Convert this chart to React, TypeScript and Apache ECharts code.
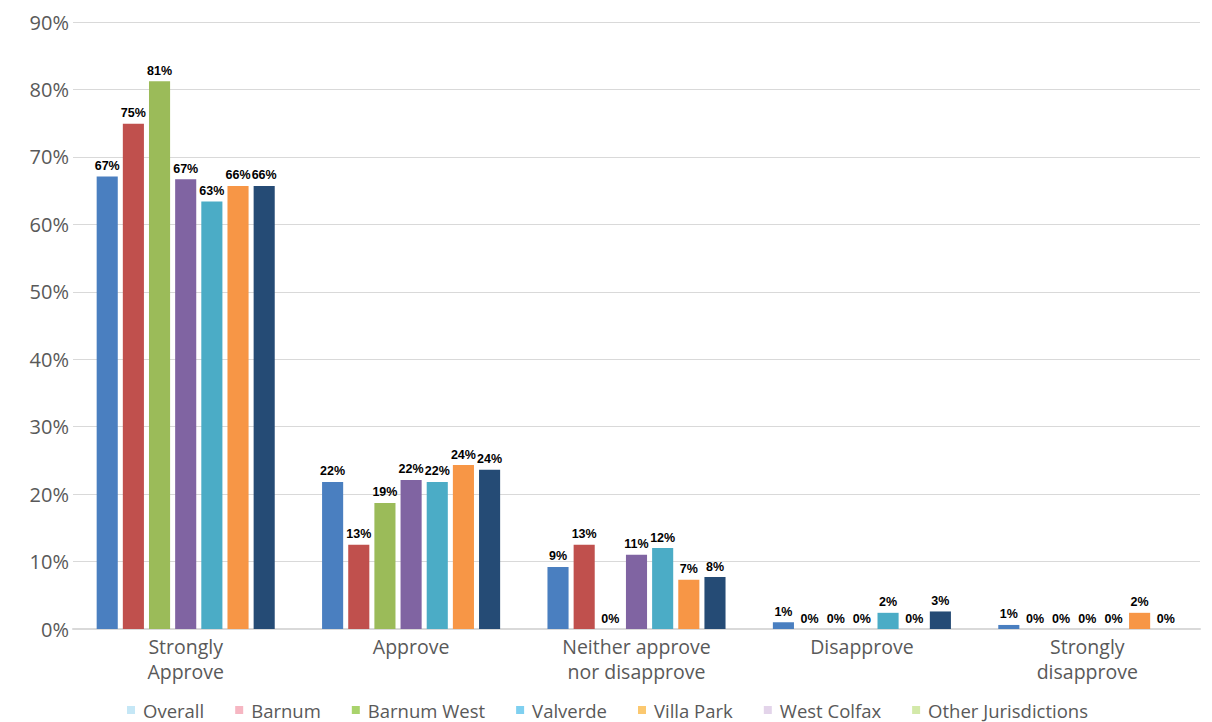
import React, { useEffect, useRef } from "react";
import * as echarts from "echarts";

const categories = ["Strongly\nApprove", "Approve", "Neither approve\nnor disapprove", "Disapprove", "Strongly\ndisapprove"];
const seriesNames = ["Overall", "Barnum", "Barnum West", "Valverde", "Villa Park", "West Colfax", "Other Jurisdictions"];
const overall = [67.1, 21.8, 9.2, 1.0, 0.6];
const barnum = [74.9, 12.5, 12.5, 0, 0];
const barnumWest = [81.2, 18.7, 0, 0, 0];
const valverde = [66.7, 22.1, 11.0, 0, 0];
const villaPark = [63.4, 21.8, 12.0, 2.4, 0];
const westColfax = [65.7, 24.3, 7.3, 0, 2.4];
const otherJurisdictions = [65.7, 23.6, 7.7, 2.6, 0];
const yTicks = [0, 10, 20, 30, 40, 50, 60, 70, 80, 90];

const seriesValues = [overall, barnum, barnumWest, valverde, villaPark, westColfax, otherJurisdictions];
const barColors = ["#4a7fc0", "#c0504d", "#9bbb59", "#8064a2", "#4bacc6", "#f79646", "#254b75"];
const legendColors = ["#c5e7f6", "#f6b6c2", "#a9d36c", "#7fd0f0", "#fbc86f", "#e3d4ea", "#d3e9a9"];

export default function App() {
  const ref = useRef<HTMLDivElement>(null);
  useEffect(() => {
    document.body.style.margin = "0";
    const chart = echarts.init(ref.current!, null, { renderer: "svg" });
    chart.setOption({
      animation: false,
      backgroundColor: "#ffffff",
      grid: { left: 73, right: 12, top: 22, bottom: 93, containLabel: false },
      legend: {
        left: 127,
        top: 700,
        padding: 0,
        itemWidth: 8,
        itemHeight: 8,
        itemGap: 31,
        icon: "rect",
        textStyle: { fontFamily: "Open Sans", fontSize: 18.5, lineHeight: 20, color: "#595959", padding: [0, 0, 0, 3] },
        data: seriesNames.map((n, i) => ({ name: n, itemStyle: { color: legendColors[i] } })),
      },
      xAxis: {
        type: "category",
        data: categories,
        axisLine: { lineStyle: { color: "#d9d9d9", width: 2 } },
        axisTick: { show: false },
        axisLabel: {
          fontFamily: "Open Sans",
          fontSize: 19.5,
          color: "#595959",
          lineHeight: 25,
          margin: 5,
          interval: 0,
          verticalAlign: "top",
        },
      },
      yAxis: {
        type: "value",
        min: yTicks[0],
        max: yTicks[yTicks.length - 1],
        interval: 10,
        axisLine: { show: false },
        axisTick: { show: false },
        splitLine: { lineStyle: { color: "#d9d9d9", width: 1 } },
        axisLabel: {
          fontFamily: "Open Sans",
          fontSize: 20,
          color: "#595959",
          margin: 4,
          formatter: (v: number) => v + "%",
        },
      },
      series: seriesNames.map((name, i) => ({
        name,
        type: "bar",
        data: seriesValues[i],
        barCategoryGap: "21%",
        barGap: "24%",
        itemStyle: { color: barColors[i] },
        label: {
          show: true,
          position: "top",
          distance: 4,
          fontFamily: "Liberation Sans",
          fontWeight: "bold",
          fontSize: 12.5,
          color: "#000000",
          formatter: (p: any) => Math.round(p.value) + "%",
        },
      })),
    });
    return () => chart.dispose();
  }, []);
  return <div ref={ref} style={{ width: 1212, height: 722 }} />;
}
